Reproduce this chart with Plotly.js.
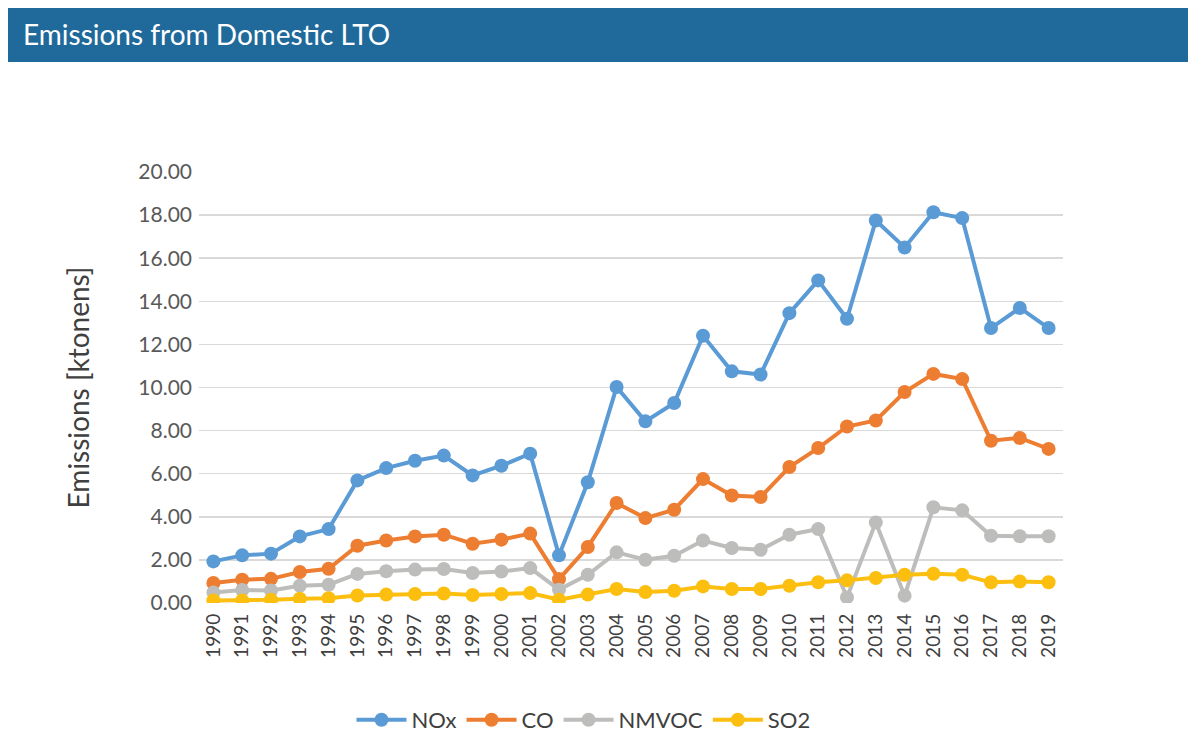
<!DOCTYPE html>
<html>
<head>
<meta charset="utf-8">
<script src="https://cdn.plot.ly/plotly-3.0.1.min.js"></script>
<style>
  html, body { margin: 0; padding: 0; background: #ffffff; }
  #chart { width: 1188px; height: 737px; }
</style>
</head>
<body>
<div id="chart"></div>
<script>
const years = ["1990","1991","1992","1993","1994","1995","1996","1997","1998","1999",
               "2000","2001","2002","2003","2004","2005","2006","2007","2008","2009",
               "2010","2011","2012","2013","2014","2015","2016","2017","2018","2019"];

const nox = [1.93, 2.21, 2.29, 3.09, 3.43, 5.69, 6.26, 6.60, 6.84, 5.92,
             6.37, 6.93, 2.21, 5.60, 10.02, 8.43, 9.28, 12.40, 10.75, 10.60,
             13.45, 14.97, 13.19, 17.75, 16.50, 18.13, 17.86, 12.76, 13.69, 12.76];

const co = [0.93, 1.08, 1.12, 1.44, 1.59, 2.66, 2.90, 3.09, 3.17, 2.75,
            2.94, 3.22, 1.11, 2.60, 4.64, 3.94, 4.33, 5.75, 4.99, 4.92,
            6.31, 7.19, 8.19, 8.47, 9.79, 10.63, 10.39, 7.53, 7.66, 7.15];

const nmvoc = [0.49, 0.60, 0.58, 0.80, 0.85, 1.35, 1.47, 1.55, 1.58, 1.39,
               1.46, 1.62, 0.62, 1.31, 2.35, 2.01, 2.19, 2.90, 2.55, 2.47,
               3.17, 3.43, 0.26, 3.74, 0.34, 4.44, 4.30, 3.12, 3.10, 3.10];

const so2 = [0.12, 0.12, 0.15, 0.20, 0.22, 0.35, 0.39, 0.42, 0.44, 0.37,
             0.42, 0.46, 0.15, 0.39, 0.65, 0.51, 0.57, 0.77, 0.65, 0.65,
             0.80, 0.96, 1.05, 1.16, 1.31, 1.36, 1.31, 0.96, 1.00, 0.96];

const seriesNames = ["NOx", "CO", "NMVOC", "SO2"];
const seriesData = [nox, co, nmvoc, so2];
const seriesColors = ["#5b9bd5", "#ed7d31", "#bdbdbb", "#fcbf0f"];

const traces = seriesNames.map((name, i) => ({
  type: "scatter",
  mode: "lines+markers",
  name: name,
  x: years,
  y: seriesData[i],
  line: { color: seriesColors[i], width: 4 },
  marker: { color: seriesColors[i], size: 14 }
}));

const FONT = "Lato, 'Open Sans', sans-serif";

const layout = {
  width: 1188,
  height: 737,
  margin: { l: 199, r: 125, t: 172, b: 134, autoexpand: false },
  paper_bgcolor: "#ffffff",
  plot_bgcolor: "#ffffff",
  font: { family: FONT, color: "#595959" },
  title: {
    text: "Emissions from Domestic LTO",
    font: { family: FONT, size: 28, color: "#ffffff" },
    x: 23 / 1188, xanchor: "left", xref: "container",
    y: 1 - 35 / 737, yanchor: "middle", yref: "container"
  },
  shapes: [{
    type: "rect", xref: "paper", yref: "paper",
    x0: (8 - 199) / 864, x1: (1188 - 199) / 864,
    y0: (603 - 62) / 431, y1: (603 - 8) / 431,
    fillcolor: "#1f6a9a", line: { width: 0 }, layer: "below"
  }],
  xaxis: {
    type: "category",
    range: [-0.5, 29.5],
    tickangle: -90,
    tickfont: { family: FONT, size: 19, color: "#404040" },
    showgrid: false,
    showline: false,
    zeroline: false,
    ticks: "",
    ticklabelstandoff: 6
  },
  yaxis: {
    range: [0, 20],
    dtick: 2,
    tickformat: ".2f",
    tickfont: { family: FONT, size: 21, color: "#595959" },
    gridcolor: "#d9d9d9",
    gridwidth: 1.5,
    zeroline: false,
    showline: false,
    ticks: "",
    ticklabelstandoff: 6,
    title: {
      text: "Emissions [ktonens]",
      font: { family: FONT, size: 28, color: "#404040" },
      standoff: 40
    }
  },
  legend: {
    orientation: "h",
    x: 0.445, xanchor: "center",
    y: (603 - 720) / 431, yanchor: "middle",
    font: { family: FONT, size: 22, color: "#404040" },
    itemwidth: 50,
    traceorder: "normal"
  },
  showlegend: true
};

Plotly.newPlot("chart", traces, layout, { displayModeBar: false, staticPlot: true });
</script>
</body>
</html>
